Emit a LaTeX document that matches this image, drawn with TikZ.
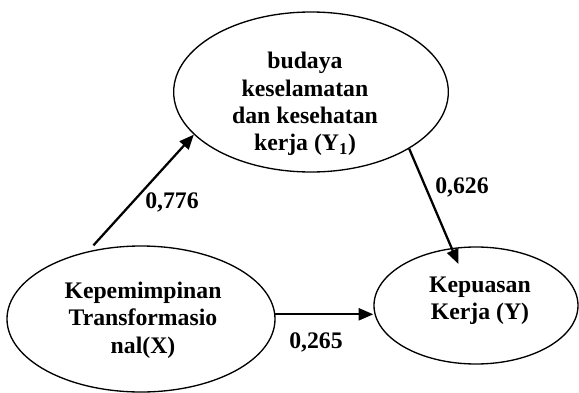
\documentclass[tikz,border=0pt]{standalone}
\usepackage{fontspec}
\setmainfont{Liberation Serif}
\usetikzlibrary{arrows.meta,calc,shapes.geometric}
\begin{document}
\begin{tikzpicture}[x=0.75pt,y=-0.75pt,
  oval/.style={draw,ellipse,line width=1pt,inner sep=0pt},
  txt/.style={align=center,font=\bfseries\fontsize{17.8}{20.5}\selectfont,inner sep=0pt},
  lbl/.style={font=\bfseries\fontsize{17.8}{20.5}\selectfont,inner sep=0pt},
  arr/.style={line width=1.7pt,-{Triangle[length=11pt,width=9pt]}}]
\useasboundingbox (0,0) rectangle (579,393);
\node[oval,minimum width=206pt,minimum height=120pt] (T) at (311,92) {};
\node[oval,minimum width=201pt,minimum height=109.5pt] (L) at (141,319) {};
\node[oval,minimum width=153pt,minimum height=87.75pt] (R) at (476,305.5) {};
\node[txt] (Tt) at (305,104) {budaya\\keselamatan\\dan kesehatan\\kerja (Y\textsubscript{1})};
\node[txt] (Lt) at (143,320) {Kepemimpinan\\Transformasio\\nal(X)};
\node[txt] (Rt) at (480,301) {Kepuasan\\Kerja (Y)};
\draw[arr,shorten <=6pt] (L.128) -- (T.200);
\draw[arr,shorten >=-13pt] (T.330) -- (R.113);
\draw[arr] (L.2) -- (L.2 -| R.west);
\node[lbl] (l1) at (172,202) {0,776};
\node[lbl] (l2) at (462,187) {0,626};
\node[lbl] (l3) at (316,342) {0,265};
\end{tikzpicture}
\end{document}
